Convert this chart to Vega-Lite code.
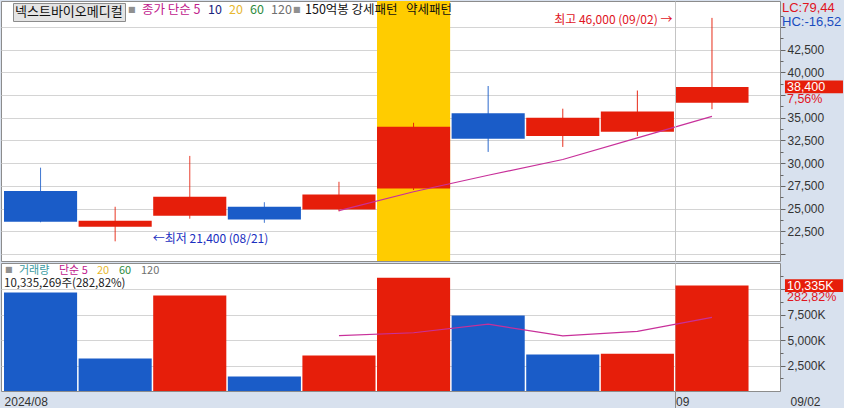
{
  "$schema": "https://vega.github.io/schema/vega-lite/v6.json",
  "background": "#d8e1ee",
  "padding": 0,
  "spacing": 0,
  "config": {
    "view": {"fill": "#ffffff", "stroke": "#8c8c8c", "strokeWidth": 1},
    "locale": {"number": {"decimal": ",", "thousands": ",", "grouping": [3], "currency": ["", ""]}},
    "axis": {"labelFont": "Liberation Sans", "labelFontSize": 12, "labelColor": "#333333", "titleFont": "Liberation Sans"},
    "legend": {"labelFont": "Noto Sans CJK KR", "labelFontSize": 12, "titleFont": "DejaVu Sans", "padding": 0, "symbolSize": 0.01, "symbolOpacity": 0, "symbolStrokeWidth": 0.01, "labelOffset": -12}
  },
  "datasets": {
    "ohlc": [
      {"date": "08/20", "open": 26950, "high": 29500, "low": 23500, "close": 23550, "dir": "down", "volume": 9660000, "vdir": "down"},
      {"date": "08/21", "open": 23000, "high": 25200, "low": 21400, "close": 23650, "dir": "up", "volume": 3190000, "vdir": "down"},
      {"date": "08/22", "open": 24200, "high": 30800, "low": 23900, "close": 26300, "dir": "up", "volume": 9360000, "vdir": "up"},
      {"date": "08/23", "open": 25200, "high": 25700, "low": 23450, "close": 23800, "dir": "down", "volume": 1420000, "vdir": "down"},
      {"date": "08/26", "open": 24900, "high": 27950, "low": 24700, "close": 26550, "dir": "up", "volume": 3480000, "vdir": "up", "ma5": 24770, "vma5": 5422000},
      {"date": "08/27", "open": 27200, "high": 34450, "low": 27050, "close": 34000, "dir": "up", "volume": 11100000, "vdir": "up", "ma5": 26860, "vma5": 5710000, "pattern": "강세패턴"},
      {"date": "08/28", "open": 35500, "high": 38500, "low": 31250, "close": 32700, "dir": "down", "volume": 7400000, "vdir": "down", "ma5": 28670, "vma5": 6552000},
      {"date": "08/29", "open": 33000, "high": 36000, "low": 31800, "close": 35000, "dir": "up", "volume": 3580000, "vdir": "down", "ma5": 30410, "vma5": 5396000},
      {"date": "08/30", "open": 33450, "high": 38000, "low": 33000, "close": 35700, "dir": "up", "volume": 3654000, "vdir": "up", "ma5": 32790, "vma5": 5843000},
      {"date": "09/02", "open": 36650, "high": 46000, "low": 35950, "close": 38400, "dir": "up", "volume": 10335269, "vdir": "up", "ma5": 35160, "vma5": 7214000, "chg": 0.0756, "vchg": 2.8282}
    ],
    "notes": [
      {"date": "09/02", "price": 46000, "label": "최고 46,000 (09/02) →", "kind": "high"},
      {"date": "08/21", "price": 21400, "label": "←최저 21,400 (08/21)", "kind": "low"}
    ]
  },
  "resolve": {"scale": {"color": "independent", "stroke": "independent", "fill": "independent", "strokeDash": "independent", "x": "independent", "y": "independent"}},
  "vconcat": [
    {
      "width": 779,
      "height": 260,
      "data": {"name": "ohlc"},
      "layer": [
        {
          "transform": [{"filter": "isValid(datum.pattern)"}],
          "mark": {"type": "rect"},
          "encoding": {
            "x": {
              "field": "date", "type": "ordinal",
              "scale": {"type": "band", "domain": ["08/20", "08/21", "08/22", "08/23", "08/26", "08/27", "08/28", "08/29", "08/30", "09/02"], "paddingInner": 0.02, "paddingOuter": 0.231, "align": 0.087, "round": false},
              "axis": {"values": ["09/02"], "bandPosition": 0, "grid": true, "gridColor": "#c4c4c4", "labels": false, "ticks": false, "domain": false, "title": null, "minExtent": 0, "maxExtent": 0}
            },
            "fill": {
              "field": "pattern", "type": "nominal",
              "scale": {"domain": ["강세패턴", "약세패턴"], "range": ["#ffcc00", "#7fb2ff"]},
              "legend": {
                "orient": "none", "legendX": 292, "legendY": 3, "direction": "horizontal",
                "title": "■", "titleOrient": "left", "titleColor": "#909090", "titleFontSize": 8, "titlePadding": 4, "titleBaseline": "middle",
                "labelExpr": "datum.value == '강세패턴' ? '150억봉 강세패턴' : datum.label",
                "labelColor": "#111111", "columnPadding": 8, "labelFontSize": 12.5, "labelOffset": -12.5
              }
            }
          }
        },
        {
          "mark": {"type": "rule", "strokeWidth": 1},
          "encoding": {
            "x": {"field": "date", "type": "ordinal"},
            "y": {
              "field": "low", "type": "quantitative",
              "scale": {"domain": [19230, 47860], "zero": false, "nice": false},
              "axis": {
                "orient": "right", "title": null, "domain": false,
                "values": [20000, 21250, 22500, 23750, 25000, 26250, 27500, 28750, 30000, 31250, 32500, 33750, 35000, 36250, 37500, 38750, 40000, 41250, 42500, 43750, 45000, 46250],
                "tickCount": 1000,
                "labelExpr": "datum.value % 2500 == 0 && datum.value < 44000 && datum.value > 21000 && datum.value != 37500 ? format(datum.value, ',') : ''",
                "labelOverlap": false,
                "tickSize": {"condition": {"test": "datum.value % 2500 == 0", "value": 5}, "value": 3},
                "tickColor": "#666666",
                "grid": true, "gridColor": "#d4d4d4",
                "gridOpacity": {"condition": {"test": "datum.value % 2500 == 0", "value": 1}, "value": 0},
                "labelPadding": 2, "labelBaseline": "middle",
                "minExtent": 65, "maxExtent": 65
              }
            },
            "y2": {"field": "high"},
            "color": {
              "field": "dir", "type": "nominal",
              "scale": {"domain": ["up", "down"], "range": ["#e61e0a", "#1a5cc8"]},
              "legend": {
                "orient": "none", "legendX": 781, "legendY": 0, "direction": "vertical", "title": null,
                "labelExpr": "datum.value == 'up' ? 'LC:79,44' : 'HC:-16,52'",
                "labelFont": "Liberation Sans", "labelFontSize": 13, "labelOffset": -13, "rowPadding": 0,
                "encode": {"labels": {"update": {"fill": {"signal": "datum.value == 'up' ? '#e0141e' : '#1a4cc0'"}}}}
              }
            },
            "strokeDash": {
              "datum": "넥스트바이오메디컬", "type": "nominal",
              "scale": {"range": [[1, 0]]},
              "legend": {
                "orient": "none", "legendX": 12, "legendY": 2, "title": null,
                "fillColor": "#e4e4e4", "strokeColor": "#8c8c8c", "padding": 2,
                "labelColor": "#111111", "symbolType": "circle", "labelFontSize": 13, "labelOffset": -13
              }
            }
          }
        },
        {
          "mark": {"type": "bar"},
          "encoding": {
            "x": {"field": "date", "type": "ordinal"},
            "y": {"field": "open", "type": "quantitative"},
            "y2": {"field": "close"},
            "color": {"field": "dir", "type": "nominal"}
          }
        },
        {
          "transform": [{"filter": "isValid(datum.ma5)"}],
          "mark": {"type": "line", "strokeWidth": 1.2},
          "encoding": {
            "x": {"field": "date", "type": "ordinal"},
            "y": {"field": "ma5", "type": "quantitative"},
            "stroke": {
              "datum": "5", "type": "nominal",
              "scale": {"domain": ["5", "10", "20", "60", "120"], "range": ["#c8309a", "#1a237e", "#e8b420", "#2e8b3e", "#707070"]},
              "legend": {
                "orient": "none", "legendX": 127, "legendY": 3, "direction": "horizontal",
                "title": "■", "titleOrient": "left", "titleColor": "#909090", "titleFontSize": 8, "titlePadding": 6, "titleBaseline": "middle",
                "labelExpr": "datum.value == '5' ? '종가 단순 5' : datum.label",
                "columnPadding": 7, "labelFontSize": 12.5, "labelOffset": -12.5,
                "encode": {"labels": {"update": {"fill": {"signal": "datum.value == '5' ? '#c0208c' : datum.value == '10' ? '#1a237e' : datum.value == '20' ? '#e8b830' : datum.value == '60' ? '#2e8b3e' : '#707070'"}}}}
              }
            }
          }
        },
        {
          "data": {"name": "notes"},
          "transform": [{"filter": "datum.kind == 'high'"}],
          "mark": {"type": "text", "align": "right", "baseline": "middle", "dx": -3, "dy": 2, "font": "Noto Sans CJK KR", "fontSize": 12, "color": "#e0141e"},
          "encoding": {
            "x": {"field": "date", "type": "ordinal", "bandPosition": 0},
            "y": {"field": "price", "type": "quantitative"},
            "text": {"field": "label"}
          }
        },
        {
          "data": {"name": "notes"},
          "transform": [{"filter": "datum.kind == 'low'"}],
          "mark": {"type": "text", "align": "left", "baseline": "middle", "dx": 1, "dy": -2, "font": "Noto Sans CJK KR", "fontSize": 12, "color": "#1a30c0"},
          "encoding": {
            "x": {"field": "date", "type": "ordinal", "bandPosition": 1},
            "y": {"field": "price", "type": "quantitative"},
            "text": {"field": "label"}
          }
        },
        {
          "transform": [{"filter": "datum.date == '09/02'"}],
          "mark": {"type": "point", "shape": "M-1,-0.219L1,-0.219L1,0.219L-1,0.219Z", "size": 3364, "filled": true, "opacity": 1, "strokeWidth": 0, "color": "#e61e0a", "xOffset": 102},
          "encoding": {
            "x": {"field": "date", "type": "ordinal"},
            "y": {"field": "close", "type": "quantitative"}
          }
        },
        {
          "transform": [{"filter": "datum.date == '09/02'"}],
          "mark": {"type": "text", "align": "left", "baseline": "middle", "dx": 75, "font": "Liberation Sans", "fontSize": 12.5, "color": "#ffffff"},
          "encoding": {
            "x": {"field": "date", "type": "ordinal"},
            "y": {"field": "close", "type": "quantitative"},
            "text": {"field": "close", "format": ","}
          }
        },
        {
          "transform": [{"filter": "datum.date == '09/02'"}],
          "mark": {"type": "text", "align": "left", "baseline": "middle", "dx": 75, "dy": 12, "font": "Liberation Sans", "fontSize": 12.5, "color": "#e0141e"},
          "encoding": {
            "x": {"field": "date", "type": "ordinal"},
            "y": {"field": "close", "type": "quantitative"},
            "text": {"field": "chg", "format": ".2%"}
          }
        }
      ]
    },
    {
      "width": 779,
      "height": 128,
      "data": {"name": "ohlc"},
      "title": {"text": "10,335,269주(282,82%)", "anchor": "start", "frame": "group", "offset": -32, "baseline": "middle", "dx": 3, "font": "Noto Sans CJK KR", "fontSize": 11.5, "fontWeight": "normal", "color": "#222222"},
      "layer": [
        {
          "mark": {"type": "bar"},
          "encoding": {
            "x": {
              "field": "date", "type": "ordinal",
              "scale": {"type": "band", "domain": ["08/20", "08/21", "08/22", "08/23", "08/26", "08/27", "08/28", "08/29", "08/30", "09/02"], "paddingInner": 0.02, "paddingOuter": 0.231, "align": 0.087, "round": false},
              "axis": {
                "values": ["08/20", "09/02"], "bandPosition": 0, "title": "09/02",
                "titleX": 789, "titleY": 10, "titleAlign": "left", "titleBaseline": "middle", "titleFontSize": 12, "titleFontWeight": "normal", "titleColor": "#333333",
                "labelExpr": "datum.value == '08/20' ? '2024/08' : '09'", "labelAngle": 0,
                "labelAlign": "left", "labelBaseline": "middle", "labelPadding": -10, "labelOffset": -36, "labelOverlap": false,
                "tickSize": 20, "tickColor": "#8c8c8c",
                "tickOpacity": {"condition": {"test": "datum.value == '08/20'", "value": 0}, "value": 1},
                "domain": false, "grid": true, "gridColor": "#c4c4c4",
                "gridOpacity": {"condition": {"test": "datum.value == '08/20'", "value": 0}, "value": 1},
                "minExtent": 20, "maxExtent": 20
              }
            },
            "y": {
              "field": "volume", "type": "quantitative",
              "scale": {"domain": [0, 12550000], "nice": false},
              "axis": {
                "orient": "right", "title": null, "domain": false,
                "values": [1250000, 2500000, 3750000, 5000000, 6250000, 7500000, 8750000, 10000000, 11250000],
                "tickCount": 1000,
                "labelExpr": "datum.value % 2500000 == 0 && datum.value > 0 && datum.value < 9000000 ? format(datum.value / 1000, ',') + 'K' : ''",
                "labelOverlap": false,
                "tickSize": {"condition": {"test": "datum.value % 2500000 == 0", "value": 5}, "value": 3},
                "tickColor": "#666666",
                "grid": true, "gridColor": "#d4d4d4",
                "gridOpacity": {"condition": {"test": "datum.value % 2500000 == 0 && datum.value > 0", "value": 1}, "value": 0},
                "labelPadding": 2, "labelBaseline": "middle",
                "minExtent": 65, "maxExtent": 65
              }
            },
            "color": {
              "field": "vdir", "type": "nominal",
              "scale": {"domain": ["up", "down"], "range": ["#e61e0a", "#1a5cc8"]},
              "legend": null
            }
          }
        },
        {
          "transform": [{"filter": "isValid(datum.vma5)"}],
          "mark": {"type": "line", "strokeWidth": 1.2},
          "encoding": {
            "x": {"field": "date", "type": "ordinal"},
            "y": {"field": "vma5", "type": "quantitative"},
            "stroke": {
              "datum": "5", "type": "nominal",
              "scale": {"domain": ["거래량", "5", "20", "60", "120"], "range": ["#3a9aa0", "#c8309a", "#e8b420", "#2e8b3e", "#707070"]},
              "legend": {
                "orient": "none", "legendX": 4, "legendY": 2, "direction": "horizontal",
                "title": "■", "titleOrient": "left", "titleColor": "#909090", "titleFontSize": 8, "titlePadding": 6, "titleBaseline": "middle",
                "labelExpr": "datum.value == '5' ? '단순 5' : datum.label",
                "labelFontSize": 11, "labelOffset": -11, "columnPadding": 9,
                "encode": {"labels": {"update": {"fill": {"signal": "datum.value == '거래량' ? '#3a9aa0' : datum.value == '5' ? '#c0208c' : datum.value == '20' ? '#e8b830' : datum.value == '60' ? '#2e8b3e' : '#707070'"}}}}
              }
            }
          }
        },
        {
          "transform": [{"filter": "datum.date == '09/02'"}],
          "mark": {"type": "point", "shape": "M-1,-0.219L1,-0.219L1,0.219L-1,0.219Z", "size": 3364, "filled": true, "opacity": 1, "strokeWidth": 0, "color": "#e61e0a", "xOffset": 102},
          "encoding": {
            "x": {"field": "date", "type": "ordinal"},
            "y": {"field": "volume", "type": "quantitative"}
          }
        },
        {
          "transform": [{"filter": "datum.date == '09/02'"}],
          "mark": {"type": "text", "align": "left", "baseline": "middle", "dx": 75, "font": "Liberation Sans", "fontSize": 12.5, "color": "#ffffff", "text": {"expr": "format(datum.volume / 1000, ',.0f') + 'K'"}},
          "encoding": {
            "x": {"field": "date", "type": "ordinal"},
            "y": {"field": "volume", "type": "quantitative"}
          }
        },
        {
          "transform": [{"filter": "datum.date == '09/02'"}],
          "mark": {"type": "text", "align": "left", "baseline": "middle", "dx": 75, "dy": 11, "font": "Liberation Sans", "fontSize": 12.5, "color": "#e0141e"},
          "encoding": {
            "x": {"field": "date", "type": "ordinal"},
            "y": {"field": "volume", "type": "quantitative"},
            "text": {"field": "vchg", "format": ".2%"}
          }
        }
      ]
    }
  ]
}
